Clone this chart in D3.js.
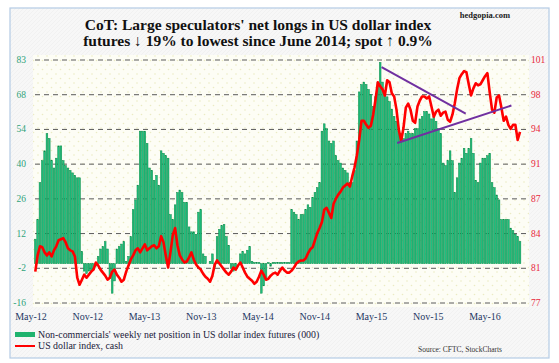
<!DOCTYPE html>
<html>
<head>
<meta charset="utf-8">
<script src="https://cdnjs.cloudflare.com/ajax/libs/d3/7.8.5/d3.min.js"></script>
<style>
    body { margin: 0; padding: 0; background: #ffffff; }
    svg text { font-family: "Liberation Serif", "Times New Roman", serif; }
</style>
</head>
<body>
<div id="area1"></div>
<script>

// weekly net position, non-commercials (000), May-12 .. May-16
var netLongs = [
    10, 18, 33, 42, 46, 53, 51, 42, 39, 43, 48, 48, 42, 40, 39, 38, 37, 36, 35, 35,
    5, -3, -4, -3, -3, -2, -1, 3, 6, 7, 9, 6, -6, -12, -7, 6, 7, 8, 9, 1,
    3, 11, 22, 26, 32, 54, 54, 54, 49, 39, 38, 34, 36, 32, 46, 45, 44, 43, 20, 18,
    24, 29, 30, 29, 25, 25, 15, 13, 13, 12, 21, 22, 4, 3, 0, 1, 4, -1.5, 11, 14,
    15.5, 16, 11, 7.5, -2, -3, -2.5, 0, 4, 5, 4, 5.5, 7, 1, 0.5, 0.5, 0.5, -12, -9, -6,
    0.5, -1, 0.5, 0.5, 0.5, 0.5, 0.5, 0.5, 0.5, 0.5, 22, 21, 20, 18, 20, 20, 22, 24, 23, 27,
    29, 31, 33, 54, 57, 55, 50, 49, 50, 44, 42, 41, 39, 38, 37, 33, 33, 38, 50, 70,
    73, 74, 73, 71, 69, 64, 68, 74, 82, 74, 69, 68, 66, 63, 60, 58, 54, 53, 51, 53,
    54, 53, 53, 55, 55, 59, 60, 62, 62, 61, 59, 60, 58, 55, 53, 41, 40, 42, 46, 42,
    29, 35, 41, 43, 47, 45, 47, 51, 45, 34, 33, 41, 43, 43, 44, 45, 33, 31, 28, 26,
    18, 18, 18, 18, 14.5, 13.5, 12, 11, 9
];

// US dollar index, cash (same weeks)
var dollarIndex = [
    80.1, 81.7, 82.6, 82.5, 82.0, 81.7, 82.0, 81.6, 82.2, 82.6, 83.2, 83.3, 83.4, 83.0, 82.4, 82.2, 82.1, 81.6, 79.5, 78.8,
    79.3, 79.8, 79.5, 79.8, 80.1, 80.3, 81.0, 80.7, 80.3, 80.0, 79.7, 79.3, 79.5, 80.1, 80.3, 79.8, 79.5, 79.1, 79.3, 80.1,
    80.7, 81.3, 81.7, 82.2, 82.4, 82.0, 82.4, 82.8, 82.2, 82.4, 82.6, 82.7, 82.4, 82.6, 83.6, 83.0, 81.7, 80.5, 82.0, 83.7,
    84.4, 82.7, 81.7, 81.3, 81.0, 81.1, 81.5, 82.0, 81.3, 80.8, 80.5, 80.3, 79.9, 79.6, 79.4, 79.1, 79.7, 80.8, 81.2, 80.9,
    80.6, 80.3, 80.0, 79.8, 80.1, 80.5, 80.3, 80.7, 81.0, 80.5, 80.0, 79.6, 79.4, 79.2, 78.9, 79.1, 79.6, 80.2, 79.8, 79.3,
    79.4, 79.7, 79.9, 80.0, 79.8, 80.2, 80.5, 80.2, 80.0, 80.0, 80.2, 80.5, 80.9, 81.1, 81.2, 81.2, 81.4, 81.9, 82.3, 82.5,
    83.2, 83.9, 84.4, 85.0, 86.2, 86.4, 85.9, 85.4, 86.8, 87.3, 87.7, 88.0, 88.4, 88.6, 88.8, 88.5, 89.5, 90.4, 91.6, 93.1,
    95.0, 95.0, 94.6, 94.3, 94.5, 95.6, 97.1, 98.8, 98.4, 98.1, 97.5, 99.0, 98.8, 97.7, 97.4, 96.1, 94.1, 93.0, 94.3, 96.3,
    96.7, 96.1, 95.0, 94.8, 96.4, 97.0, 97.4, 97.4, 97.2, 97.4, 96.4, 95.4, 95.9, 96.1, 95.5, 95.8, 95.9, 95.1, 94.9, 95.6,
    96.7, 98.1, 99.2, 99.6, 99.9, 99.8, 98.6, 97.5, 98.2, 98.7, 98.5, 98.6, 99.0, 99.4, 99.7, 97.8, 96.1, 95.8, 97.3, 97.5,
    96.3, 95.0, 95.4, 94.6, 94.2, 94.6, 94.6, 93.1, 93.9
];

// triangle drawn on the dollar index: [week, value]
var trendDown = [[148.6, 100.3], [184.7, 95.7]];
var trendUp = [[155.3, 92.8], [204.3, 96.5]];

var xLabels = ["May-12", "Nov-12", "May-13", "Nov-13", "May-14", "Nov-14", "May-15", "Nov-15", "May-16"];
var leftLabels = [-16, -2, 12, 26, 40, 54, 68, 83];
var rightLabels = [77, 81, 84, 87, 91, 94, 98, 101];

var W = 559, H = 363;
var top_y = 60, bot_y = 303;
var n = netLongs.length;

var svg = d3.select("#area1").append("svg")
    .attr("width", W).attr("height", H);

// patterns for the backgrounds
var defs = svg.append("defs");
var hatch = defs.append("pattern").attr("id", "hatch")
    .attr("width", 4).attr("height", 4).attr("patternUnits", "userSpaceOnUse");
hatch.append("rect").attr("width", 4).attr("height", 4).attr("fill", "#f7f7f7");
hatch.append("path").attr("d", "M0,4 L4,0").attr("stroke", "#ececec").attr("stroke-width", 0.6);
var dots = defs.append("pattern").attr("id", "dots")
    .attr("width", 9).attr("height", 9).attr("patternUnits", "userSpaceOnUse");
dots.append("rect").attr("width", 9).attr("height", 9).attr("fill", "#fdfdf5");
dots.append("circle").attr("cx", 2).attr("cy", 2).attr("r", 0.8).attr("fill", "#ebebc4");
dots.append("circle").attr("cx", 6.5).attr("cy", 6.5).attr("r", 0.8).attr("fill", "#ebebc4");

svg.append("rect").attr("x", 0).attr("y", 0).attr("width", W).attr("height", H).attr("fill", "#ffffff");
svg.append("rect")
    .attr("x", 10).attr("y", 8).attr("width", 539).attr("height", 350)
    .attr("fill", "url(#hatch)").attr("stroke", "#b4cbe4").attr("stroke-width", 1.2);
svg.append("rect")
    .attr("x", 33).attr("y", 55).attr("width", 496).attr("height", 252)
    .attr("fill", "url(#dots)");

// scales
var x = d3.scaleBand().domain(d3.range(n)).range([33.8, 521.5]).padding(0.28);
var xi = d3.scaleLinear().domain([0, n - 1])
    .range([x(0) + x.bandwidth() / 2, x(n - 1) + x.bandwidth() / 2]);
var yL = d3.scaleLinear().domain([-16, 83]).range([bot_y, top_y]);
var yR = d3.scaleLinear().domain([77, 101]).range([bot_y, top_y]);
var xLab = d3.scalePoint().domain(xLabels).range([31, 485]);

// gridlines are evenly spaced, labels are rounded
var gridVals = leftLabels.map(function(d, i) { return -16 + i * 99 / (leftLabels.length - 1); });

svg.append("g").selectAll("line").data(gridVals).enter().append("line")
    .attr("x1", 35).attr("x2", 527)
    .attr("y1", function(d) { return yL(d); })
    .attr("y2", function(d) { return yL(d); })
    .attr("stroke", "#5a5a5a").attr("stroke-width", 1)
    .attr("stroke-dasharray", "5,4");

// bars
svg.append("g").selectAll("rect").data(netLongs).enter().append("rect")
    .attr("x", function(d, i) { return x(i); })
    .attr("width", x.bandwidth())
    .attr("y", function(d) { return yL(Math.max(0, d)); })
    .attr("height", function(d) { return Math.abs(yL(d) - yL(0)); })
    .attr("fill", "#1fbf80")
    .attr("stroke", "#0b8a45").attr("stroke-width", 0.5);

// dollar index
var line = d3.line()
    .x(function(d, i) { return xi(i); })
    .y(function(d) { return yR(d); });

svg.append("path").datum(dollarIndex)
    .attr("d", line)
    .attr("fill", "none").attr("stroke", "#ff0000").attr("stroke-width", 2.6)
    .attr("stroke-linejoin", "round");

var tline = d3.line()
    .x(function(d) { return xi(d[0]); })
    .y(function(d) { return yR(d[1]); });

[trendDown, trendUp].forEach(function(t) {
    svg.append("path").datum(t)
        .attr("d", tline)
        .attr("fill", "none").attr("stroke", "#7030a0").attr("stroke-width", 2);
});

// axis labels
svg.append("g").selectAll("text").data(leftLabels).enter().append("text")
    .attr("x", 26)
    .attr("y", function(d, i) { return yL(gridVals[i]) + 3; })
    .attr("text-anchor", "end")
    .attr("font-size", "9.5px").attr("fill", "#2fa37a")
    .text(function(d) { return d; });

svg.append("g").selectAll("text").data(rightLabels).enter().append("text")
    .attr("x", 531)
    .attr("y", function(d, i) { return yL(gridVals[i]) + 3; })
    .attr("font-size", "9.5px").attr("fill", "#e8273a")
    .text(function(d) { return d; });

svg.append("g").selectAll("text").data(xLabels).enter().append("text")
    .attr("x", function(d) { return xLab(d); })
    .attr("y", 320)
    .attr("text-anchor", "middle")
    .attr("font-size", "10px").attr("fill", "#1f3864")
    .text(function(d) { return d; });

// title
svg.append("text").attr("x", 258).attr("y", 30).attr("text-anchor", "middle")
    .attr("font-size", "15.5px").attr("font-weight", "bold").attr("fill", "#111")
    .text("CoT: Large speculators' net longs in US dollar index");
svg.append("text").attr("x", 258).attr("y", 46).attr("text-anchor", "middle")
    .attr("font-size", "15.5px").attr("font-weight", "bold").attr("fill", "#111")
    .text("futures \u2193 19% to lowest since June 2014; spot \u2191 0.9%");
svg.append("text").attr("x", 510).attr("y", 18).attr("text-anchor", "end")
    .attr("font-size", "8.5px").attr("font-weight", "bold").attr("fill", "#222")
    .text("hedgopia.com");

// legend
svg.append("rect").attr("x", 15).attr("y", 332).attr("width", 20).attr("height", 5).attr("fill", "#1fb36e");
svg.append("text").attr("x", 38).attr("y", 338).attr("font-size", "9.9px").attr("fill", "#1a1a3a")
    .text("Non-commercials' weekly net position in US dollar index futures (000)");
svg.append("line").attr("x1", 15).attr("x2", 35).attr("y1", 346).attr("y2", 346)
    .attr("stroke", "#ff0000").attr("stroke-width", 2);
svg.append("text").attr("x", 38).attr("y", 349).attr("font-size", "9.9px").attr("fill", "#1a1a3a")
    .text("US dollar index, cash");
svg.append("text").attr("x", 502).attr("y", 352).attr("text-anchor", "end")
    .attr("font-size", "7.5px").attr("fill", "#333")
    .text("Source: CFTC, StockCharts");

</script>
</body>
</html>
